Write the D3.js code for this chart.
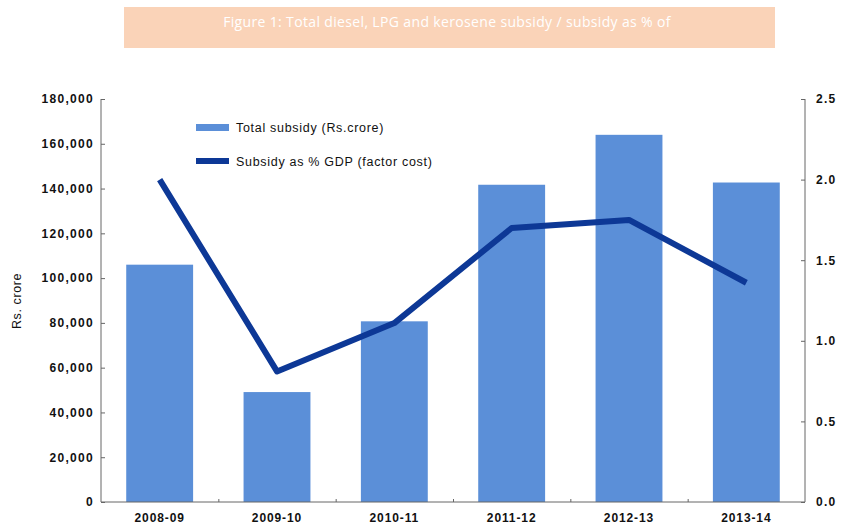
<!DOCTYPE html>
<html>
<head>
<meta charset="utf-8">
<script src="https://cdn.jsdelivr.net/npm/d3@7"></script>
<style>
  html, body { margin: 0; padding: 0; background: #fff; }
  svg { display: block; }
  .tick text { font-family: "Liberation Sans", Arial, sans-serif; }
</style>
</head>
<body>
<svg id="chart" width="842" height="529"></svg>
<script>
// Fiscal years on the x axis
const years = ["2008-09", "2009-10", "2010-11", "2011-12", "2012-13", "2013-14"];
// Total diesel, LPG and kerosene subsidy, Rs. crore
const subsidy = [106000, 49100, 80700, 141700, 164000, 142700];
// Subsidy as % of GDP at factor cost
const subsidyPctGdp = [2.0, 0.81, 1.11, 1.70, 1.75, 1.36];
// Axis tick values
const leftTicks = [0, 20000, 40000, 60000, 80000, 100000, 120000, 140000, 160000, 180000];
const rightTicks = [0, 0.5, 1.0, 1.5, 2.0, 2.5];

const titleText = "Figure 1: Total diesel, LPG and kerosene subsidy / subsidy as % of";
const legendLabels = ["Total subsidy (Rs.crore)", "Subsidy as % GDP (factor cost)"];
const leftAxisTitle = "Rs. crore";

const barColor = "#5b8fd8";
const lineColor = "#0d3896";
const axisColor = "#666";
const textColor = "#111";
const fontFamily = "'Liberation Sans', Arial, sans-serif";

const svg = d3.select("#chart");
const plot = { left: 101, right: 805, top: 99, bottom: 502 };

// Title banner
svg.append("rect")
  .attr("x", 124).attr("y", 7)
  .attr("width", 651).attr("height", 41)
  .attr("fill", "#fad3b8");
svg.append("text")
  .attr("x", 447).attr("y", 27)
  .attr("text-anchor", "middle")
  .attr("fill", "#fff")
  .attr("font-family", "'Open Sans', sans-serif")
  .attr("font-size", 14)
  .attr("letter-spacing", 0.35)
  .text(titleText);

// Scales
const x = d3.scaleBand().domain(years).range([plot.left, plot.right]).paddingInner(0.43).paddingOuter(0.215);
const xCenter = d3.scalePoint().domain(years).range([plot.left, plot.right]).padding(0.5);
const yLeft = d3.scaleLinear().domain([0, 180000]).range([plot.bottom, plot.top]);
const yRight = d3.scaleLinear().domain([0, 2.5]).range([plot.bottom, plot.top]);

// Bars
svg.append("g").selectAll("rect")
  .data(subsidy)
  .join("rect")
  .attr("x", (d, i) => xCenter(years[i]) - x.bandwidth() / 2)
  .attr("y", d => yLeft(d))
  .attr("width", x.bandwidth())
  .attr("height", d => yLeft(0) - yLeft(d))
  .attr("fill", barColor);

// Left axis
const fmt = d3.format(",");
const gLeft = svg.append("g")
  .attr("transform", `translate(${plot.left},0)`)
  .call(d3.axisLeft(yLeft).tickValues(leftTicks).tickFormat(fmt).tickSize(-4).tickPadding(7));
// Right axis
const gRight = svg.append("g")
  .attr("transform", `translate(${plot.right},0)`)
  .call(d3.axisRight(yRight).tickValues(rightTicks).tickFormat(d3.format(".1f")).tickSize(-4).tickPadding(11));
// Bottom axis: ticks sit on category boundaries
const boundaries = years.slice(1).map(y => xCenter(y) - xCenter.step() / 2);
const xb = d3.scaleLinear().domain([plot.left, plot.right]).range([plot.left, plot.right]);
const gBottom = svg.append("g")
  .attr("transform", `translate(0,${plot.bottom})`)
  .call(d3.axisBottom(xb).tickValues(boundaries).tickSize(-3).tickFormat(""));

[gLeft, gRight, gBottom].forEach(g => {
  g.select(".domain").attr("stroke", axisColor).attr("stroke-width", 1);
  g.selectAll(".tick line").attr("stroke", axisColor);
  g.selectAll(".tick text")
    .attr("fill", textColor)
    .attr("font-family", fontFamily)
    .attr("font-weight", "bold")
    .attr("font-size", 12)
    .attr("letter-spacing", 1.3);
});
gLeft.select(".domain").attr("d", `M0,${plot.top}V${plot.bottom}H0`);
gRight.select(".domain").attr("d", `M0,${plot.top}V${plot.bottom}H0`);
gBottom.select(".domain").attr("d", `M${plot.left},0H${plot.right}`);

// Category labels
svg.append("g").selectAll("text")
  .data(years)
  .join("text")
  .attr("x", d => xCenter(d))
  .attr("y", 522)
  .attr("text-anchor", "middle")
  .attr("fill", textColor)
  .attr("font-family", fontFamily)
  .attr("font-weight", "bold")
  .attr("font-size", 12)
  .attr("letter-spacing", 0.9)
  .text(d => d);

// Left axis title
svg.append("text")
  .attr("transform", "translate(21,301) rotate(-90)")
  .attr("text-anchor", "middle")
  .attr("fill", textColor)
  .attr("font-family", fontFamily)
  .attr("font-size", 12.5)
  .attr("letter-spacing", 0.6)
  .text(leftAxisTitle);

// Line: subsidy as % of GDP
const line = d3.line()
  .x((d, i) => xCenter(years[i]))
  .y(d => yRight(d));
svg.append("path")
  .datum(subsidyPctGdp)
  .attr("d", line)
  .attr("fill", "none")
  .attr("stroke", lineColor)
  .attr("stroke-width", 6)
  .attr("stroke-linejoin", "round");

// Legend
const legend = svg.append("g");
legend.append("rect")
  .attr("x", 196).attr("y", 124)
  .attr("width", 33).attr("height", 7)
  .attr("fill", barColor);
legend.append("line")
  .attr("x1", 196).attr("x2", 229)
  .attr("y1", 161).attr("y2", 161)
  .attr("stroke", lineColor)
  .attr("stroke-width", 6);
legend.selectAll("text")
  .data(legendLabels)
  .join("text")
  .attr("x", 236)
  .attr("y", (d, i) => 132 + i * 34)
  .attr("fill", textColor)
  .attr("font-family", fontFamily)
  .attr("font-size", 12.5)
  .attr("letter-spacing", 0.7)
  .text(d => d);
</script>
</body>
</html>
